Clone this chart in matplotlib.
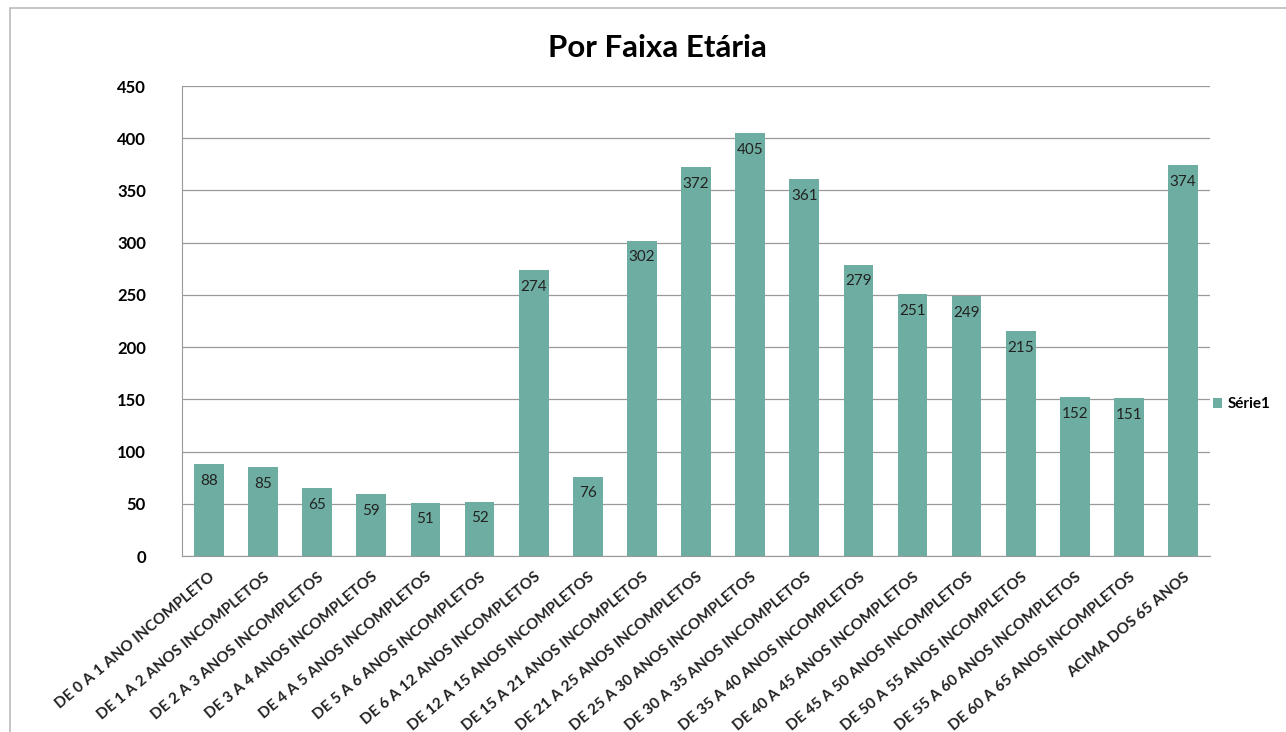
import matplotlib.pyplot as plt
from matplotlib.patches import Rectangle

# age bands and counts
faixas = [
    'DE 0 A 1 ANO INCOMPLETO',
    'DE 1 A 2 ANOS INCOMPLETOS',
    'DE 2 A 3 ANOS INCOMPLETOS',
    'DE 3 A 4 ANOS INCOMPLETOS',
    'DE 4 A 5 ANOS INCOMPLETOS',
    'DE 5 A 6 ANOS INCOMPLETOS',
    'DE 6 A 12 ANOS INCOMPLETOS',
    'DE 12 A 15 ANOS INCOMPLETOS',
    'DE 15 A 21 ANOS INCOMPLETOS',
    'DE 21 A 25 ANOS INCOMPLETOS',
    'DE 25 A 30 ANOS INCOMPLETOS',
    'DE 30 A 35 ANOS INCOMPLETOS',
    'DE 35 A 40 ANOS INCOMPLETOS',
    'DE 40 A 45 ANOS INCOMPLETOS',
    'DE 45 A 50 ANOS INCOMPLETOS',
    'DE 50 A 55 ANOS INCOMPLETOS',
    'DE 55 A 60 ANOS INCOMPLETOS',
    'DE 60 A 65 ANOS INCOMPLETOS',
    'ACIMA DOS 65 ANOS',
]
serie1 = [88, 85, 65, 59, 51, 52, 274, 76, 302, 372, 405, 361, 279, 251, 249, 215, 152, 151, 374]
yticks = [0, 50, 100, 150, 200, 250, 300, 350, 400, 450]

plt.rcParams['font.family'] = ['Lato', 'DejaVu Sans']

fig = plt.figure(figsize=(12.86, 7.32), dpi=100)
ax = fig.add_axes([0.1415, 0.2404, 0.7995, 0.6421])

# frame of the scanned chart
fig.patches.append(Rectangle((0.008, -0.01), 1.0, 0.999, transform=fig.transFigure,
                             fill=False, edgecolor='#bbbbbb', lw=1.2))

x = range(len(faixas))
bars = ax.bar(x, serie1, width=0.55, color='#6eada1', label='Série1', zorder=2)

for b, v in zip(bars, serie1):
    ax.annotate(str(v), (b.get_x() + b.get_width() / 2, v), xytext=(0, -12),
                textcoords='offset points', ha='center', va='center',
                fontsize=11, color='#222222', zorder=3)

ax.set_xlim(-0.5, len(faixas) - 0.5)
ax.set_ylim(0, 450)
ax.set_yticks(yticks)
ax.yaxis.grid(True, color='#999999', lw=0.9, zorder=0)
ax.set_axisbelow(True)
ax.tick_params(axis='y', labelsize=12, length=0, pad=26)
for lab in ax.get_yticklabels():
    lab.set_fontweight('bold')

ax.set_xticks(list(x))
ax.set_xticklabels(faixas, rotation=40, ha='right', rotation_mode='anchor',
                   fontsize=11, fontweight='bold', color='#222222')
ax.tick_params(axis='x', length=0, pad=10)

for s in ['top', 'right']:
    ax.spines[s].set_visible(False)
ax.spines['left'].set_color('#999999')
ax.spines['bottom'].set_color('#999999')

fig.text(0.511, 0.935, 'Por Faixa Etária', ha='center', va='center',
         fontsize=22.5, fontweight='bold')

ax.legend(loc='center left', bbox_to_anchor=(0.989, 0.323), frameon=False,
          handlelength=0.6, handleheight=0.6, handletextpad=0.4,
          prop={'size': 11, 'weight': 'bold'})

fig.savefig('out.png', dpi=100)
